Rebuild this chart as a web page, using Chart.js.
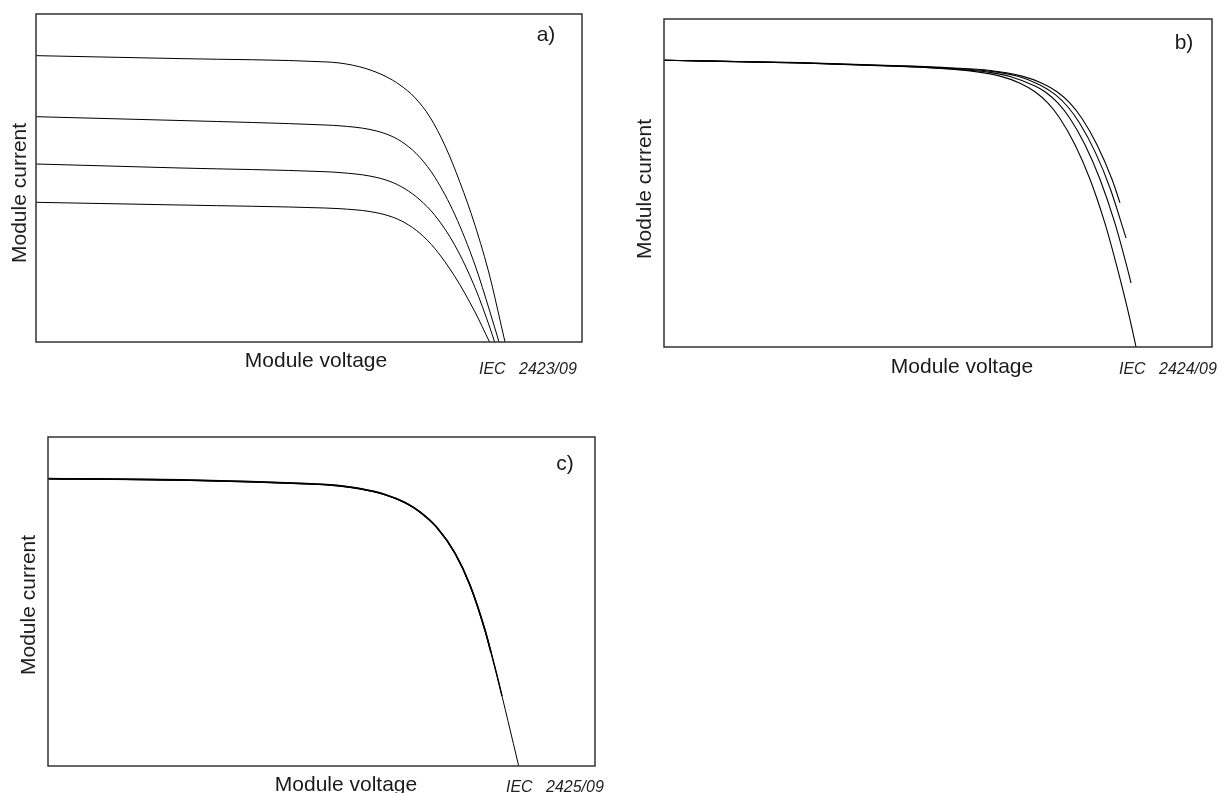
<!DOCTYPE html>
<html>
<head>
<meta charset="utf-8">
<script src="https://cdn.jsdelivr.net/npm/chart.js@4/dist/chart.umd.min.js"></script>
<style>
  body { margin:0; background:#fff; }
  #page { position:relative; width:1224px; height:793px; overflow:hidden; background:#fff;
          font-family:"Liberation Sans", Arial, sans-serif; color:#1a1a1a; }
  canvas { position:absolute; }
  .lbl { position:absolute; font-size:21px; white-space:nowrap; transform:translate(-50%,-50%); }
  .vert { transform:translate(-50%,-50%) rotate(-90deg); }
  .iec { position:absolute; font-size:16px; font-style:italic; white-space:pre; transform:translate(0,-50%); color:#222; }
</style>
</head>
<body>
<div id="page">
  <canvas id="ca" width="566" height="348" style="left:26px;top:4px"></canvas>
  <canvas id="cb" width="568" height="348" style="left:654px;top:9px"></canvas>
  <canvas id="cc" width="567" height="349" style="left:38px;top:427px"></canvas>

  <div class="lbl vert" style="left:19px;top:193px">Module current</div>
  <div class="lbl" style="left:316px;top:360px">Module voltage</div>
  <div class="lbl" style="left:546px;top:34px">a)</div>
  <div class="iec" style="left:479px;top:369px">IEC   2423/09</div>

  <div class="lbl vert" style="left:644px;top:189px">Module current</div>
  <div class="lbl" style="left:962px;top:366px">Module voltage</div>
  <div class="lbl" style="left:1184px;top:42px">b)</div>
  <div class="iec" style="left:1119px;top:369px">IEC   2424/09</div>

  <div class="lbl vert" style="left:28px;top:605px">Module current</div>
  <div class="lbl" style="left:346px;top:784px">Module voltage</div>
  <div class="lbl" style="left:565px;top:463px">c)</div>
  <div class="iec" style="left:506px;top:787px">IEC   2425/09</div>
</div>
<script>
// a) four irradiance levels
var aV1 = [0, 26.37, 52.93, 55.68, 60.26, 63.92, 66.67, 69.41, 72.16, 74.91, 77.66, 80.4, 83.15, 84.98, 85.9];
var aI1 = [87.3, 86.4, 85.4, 85.05, 83.45, 81.07, 78.35, 74.48, 68.54, 59.85, 48.63, 35.6, 19.8, 6.7, 0];
var aV2 = [0, 26.37, 52.93, 55.68, 61.17, 64.84, 67.58, 70.33, 73.08, 76.74, 80.4, 83.15, 84.8];
var aI2 = [68.69, 67.53, 66.16, 65.91, 64.79, 62.96, 60.37, 56.25, 50.15, 38.72, 23.48, 9.15, 0];
var aV3 = [0, 26.37, 52.93, 55.68, 61.17, 64.84, 67.58, 70.33, 73.08, 76.74, 80.4, 83.15, 84.0];
var aI3 = [54.27, 53.05, 51.92, 51.65, 50.59, 48.95, 46.71, 43.32, 38.57, 29.42, 16.62, 4.27, 0];
var aV4 = [0, 26.37, 52.93, 55.68, 61.17, 64.84, 67.58, 70.33, 73.08, 76.74, 80.4, 83.06];
var aI4 = [42.59, 41.77, 40.85, 40.64, 39.77, 38.34, 36.33, 33.13, 28.43, 19.89, 9.15, 0];

// b) same short-circuit current, curves cut off at different points
var bV1 = [0, 24.82, 43.07, 52.19, 59.49, 65.33, 68.98, 71.72, 74.09, 76.28, 79.01, 81.75, 83.21];
var bI1 = [87.41, 86.71, 85.76, 85.12, 84.3, 82.58, 80.44, 77.82, 74.34, 69.68, 61.68, 51.16, 43.96];
var bV2 = [0, 24.82, 43.07, 52.19, 59.49, 64.42, 68.61, 71.35, 73.72, 75.91, 78.65, 81.39, 84.31];
var bI2 = [87.41, 86.65, 85.67, 84.97, 84.06, 82.62, 79.91, 77.01, 73.17, 68.08, 59.57, 48.48, 33.23];
var bV3 = [0, 24.82, 43.07, 52.19, 59.49, 63.14, 67.7, 69.53, 71.9, 74.09, 76.82, 79.56, 82.3, 84.67, 85.22];
var bI3 = [87.41, 86.59, 85.58, 84.82, 83.72, 82.47, 79.57, 77.82, 74.34, 69.68, 61.68, 51.16, 37.67, 23.2, 19.51];
var bV4 = [0, 24.82, 43.07, 47.63, 55.84, 61.31, 64.96, 67.7, 70.07, 72.26, 75.0, 77.74, 80.47, 82.85, 85.04, 86.13];
var bI4 = [87.41, 86.59, 85.52, 85.21, 84.18, 82.58, 80.44, 77.82, 74.34, 69.68, 61.68, 51.16, 37.67, 23.2, 8.38, 0];

// c) nearly coincident curves
var cV1 = [0, 25.96, 47.17, 51.55, 57.04, 61.61, 65.27, 68.01, 71.12, 74.41, 77.15, 79.89, 80.99];
var cI1 = [87.38, 86.93, 85.86, 85.47, 84.33, 82.54, 80.1, 77.25, 72.48, 64.68, 54.98, 41.31, 34.45];
var cV2 = [0, 25.96, 47.17, 51.55, 57.04, 61.61, 65.27, 68.01, 71.12, 74.41, 77.15, 79.89, 82.08, 83.0];
var cI2 = [87.31, 86.86, 85.79, 85.4, 84.26, 82.47, 80.03, 77.18, 72.41, 64.61, 54.91, 41.24, 27.56, 21.25];
var cV3 = [0, 25.96, 47.17, 51.55, 57.04, 61.61, 65.27, 68.01, 71.12, 74.41, 77.15, 79.89, 82.08, 84.08, 86.05];
var cI3 = [87.23, 86.78, 85.71, 85.32, 84.18, 82.39, 79.95, 77.1, 72.33, 64.53, 54.83, 41.16, 27.48, 13.77, 0];

function pts(v, i) {
  var out = [];
  for (var k = 0; k < v.length; k++) out.push({x: v[k], y: i[k]});
  return out;
}

var boxPlugin = {
  id: 'box',
  afterDraw: function(chart) {
    var a = chart.chartArea, ctx = chart.ctx;
    ctx.save();
    ctx.strokeStyle = '#333';
    ctx.lineWidth = 1.5;
    ctx.strokeRect(a.left, a.top, a.right - a.left, a.bottom - a.top);
    ctx.restore();
  }
};

function makeChart(id, series, widths) {
  var sets = [];
  for (var s = 0; s < series.length; s++) {
    sets.push({
      data: pts(series[s][0], series[s][1]),
      borderColor: '#000',
      borderWidth: widths[s],
      pointRadius: 0,
      fill: false,
      cubicInterpolationMode: 'monotone'
    });
  }
  return new Chart(document.getElementById(id).getContext('2d'), {
    type: 'line',
    data: { datasets: sets },
    options: {
      responsive: false,
      animation: false,
      devicePixelRatio: 1,
      layout: { padding: 10 },
      plugins: { legend: { display: false }, tooltip: { enabled: false } },
      scales: {
        x: { type: 'linear', min: 0, max: 100, display: false },
        y: { min: 0, max: 100, display: false }
      }
    },
    plugins: [boxPlugin]
  });
}

makeChart('ca', [[aV1, aI1], [aV2, aI2], [aV3, aI3], [aV4, aI4]], [1, 1, 1, 1]);
makeChart('cb', [[bV1, bI1], [bV2, bI2], [bV3, bI3], [bV4, bI4]], [1.1, 1.1, 1.1, 1.1]);
makeChart('cc', [[cV1, cI1], [cV2, cI2], [cV3, cI3]], [1.6, 1.4, 1]);
</script>
</body>
</html>
